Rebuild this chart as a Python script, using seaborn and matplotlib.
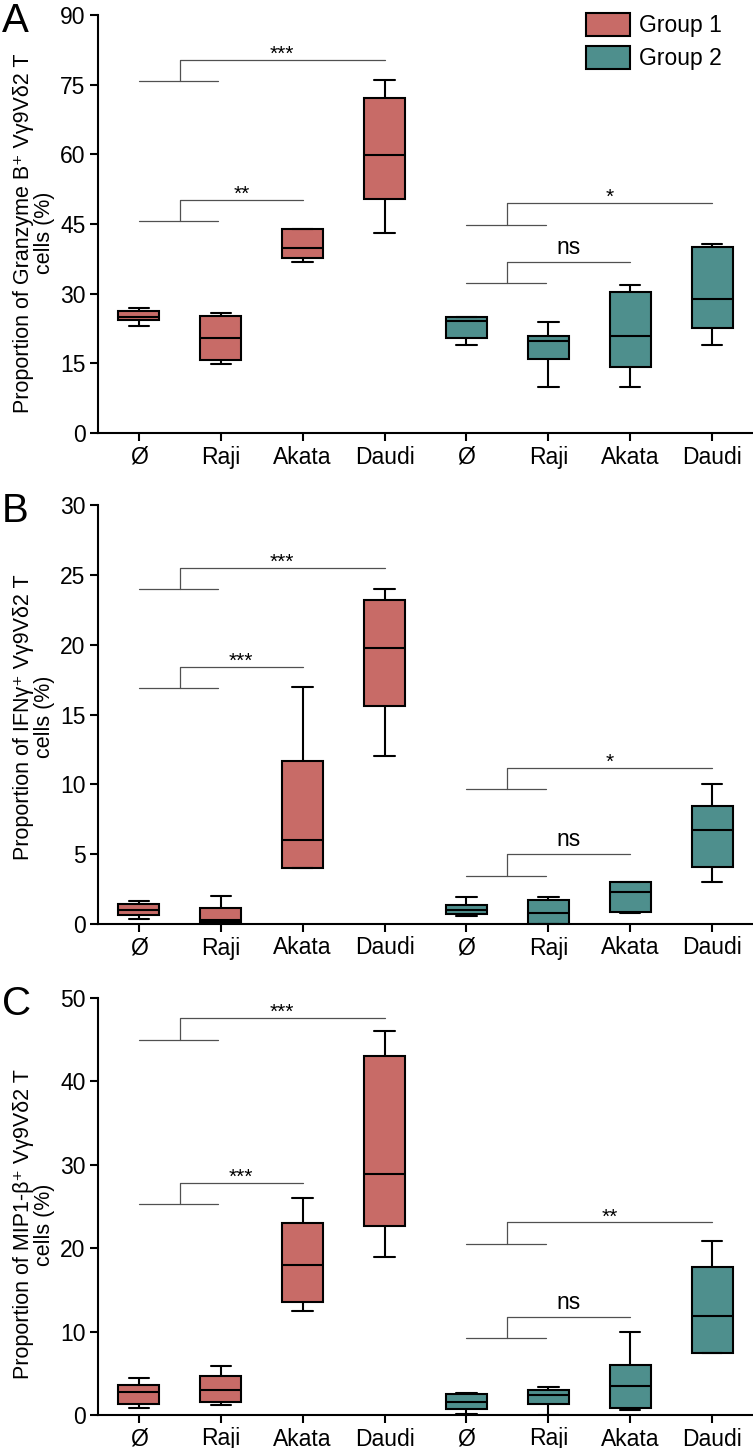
import matplotlib

matplotlib.use("Agg")
import matplotlib.pyplot as plt
import pandas as pd
import seaborn as sns
from matplotlib.patches import Patch

# targets and groups
cell_lines = ["Ø", "Raji", "Akata", "Daudi"]
groups = ["Group 1", "Group 2"]

# five-number summaries: min, q1, median, q3, max
granzyme_g1 = [[23.0, 24.3, 25.0, 26.3, 27.0], [14.9, 15.7, 20.4, 25.2, 25.8],
               [36.9, 37.6, 39.9, 43.9, 43.9], [43.0, 50.3, 59.9, 72.1, 75.9]]
granzyme_g2 = [[18.9, 20.4, 24.2, 25.0, 25.0], [10.0, 15.9, 19.9, 20.9, 23.9],
               [10.0, 14.3, 20.9, 30.4, 31.9], [18.9, 22.6, 28.9, 40.1, 40.8]]

ifng_g1 = [[0.36, 0.66, 0.97, 1.43, 1.67], [0.10, 0.14, 0.31, 1.14, 1.98],
           [3.98, 3.98, 6.03, 11.7, 16.95], [12.0, 15.6, 19.74, 23.2, 24.0]]
ifng_g2 = [[0.55, 0.71, 1.02, 1.36, 1.95], [0.0, 0.0, 0.81, 1.69, 1.95],
           [0.79, 0.88, 2.31, 2.98, 2.98], [2.98, 4.08, 6.75, 8.46, 9.99]]

mip_g1 = [[0.8, 1.28, 2.72, 3.6, 4.47], [1.16, 1.52, 2.95, 4.63, 5.9],
          [12.46, 13.6, 17.97, 22.97, 25.96], [19.0, 22.7, 28.95, 43.0, 46.0]]
mip_g2 = [[0.1, 0.72, 1.52, 2.5, 2.67], [0.0, 1.36, 2.35, 2.95, 3.3],
          [0.6, 0.88, 3.5, 5.95, 10.0], [7.4, 7.4, 11.9, 17.7, 20.9]]

ylabels = [
    "Proportion of Granzyme B\u207a V\u03b39V\u03b42 T\ncells (%)",
    "Proportion of IFN\u03b3\u207a V\u03b39V\u03b42 T\ncells (%)",
    "Proportion of MIP1-\u03b2\u207a V\u03b39V\u03b42 T\ncells (%)",
]
letters = ["A", "B", "C"]
ymax = [90, 30, 50]
ystep = [15, 5, 10]
label_y = [0.478, 0.494, 0.457]

# significance brackets: (start, end, lower y, upper y, label)
brackets = [
    [(0, 3, 75.7, 80.4, "***"), (0, 2, 45.6, 50.2, "**"),
     (4, 7, 44.7, 49.5, "*"), (4, 6, 32.3, 36.8, "ns")],
    [(0, 3, 24.0, 25.5, "***"), (0, 2, 16.9, 18.4, "***"),
     (4, 7, 9.65, 11.2, "*"), (4, 6, 3.45, 5.0, "ns")],
    [(0, 3, 45.0, 47.6, "***"), (0, 2, 25.3, 27.8, "***"),
     (4, 7, 20.5, 23.1, "**"), (4, 6, 9.2, 11.7, "ns")],
]

colors = {"Group 1": "#C86B67", "Group 2": "#4E8F8D"}

sns.set_style("ticks")
plt.rcParams["font.family"] = ["Liberation Sans", "DejaVu Sans"]
plt.rcParams["font.size"] = 16.5
for k in ["text.color", "axes.labelcolor", "xtick.color", "ytick.color", "axes.edgecolor"]:
    plt.rcParams[k] = "black"

FS = 16.5


def long_table(g1, g2):
    rows = []
    for grp, boxes in zip(groups, [g1, g2]):
        for name, vals in zip(cell_lines, boxes):
            for v in vals:
                rows.append({"slot": f"{name}|{grp}", "group": grp, "value": v})
    return pd.DataFrame(rows)


panels = [(granzyme_g1, granzyme_g2), (ifng_g1, ifng_g2), (mip_g1, mip_g2)]
order = [f"{n}|{g}" for g in groups for n in cell_lines]

fig = plt.figure(figsize=(7.53, 14.48), dpi=100)
H = 1448.0
tops = [15, 505, 998]
bottoms = [433, 924, 1415]

for i, (g1, g2) in enumerate(panels):
    ax = fig.add_axes([98 / 753, 1 - bottoms[i] / H, 655 / 753, (bottoms[i] - tops[i]) / H])
    df = long_table(g1, g2)
    sns.boxplot(data=df, x="slot", y="value", hue="group", order=order,
                hue_order=groups, palette=colors, dodge=False, width=0.5,
                whis=(0, 100), saturation=1, linecolor="black", linewidth=1.5,
                legend=False, ax=ax)

    ax.set_xlim(-0.5, 7.5)
    ax.set_ylim(0, ymax[i])
    ax.set_yticks(range(0, ymax[i] + 1, ystep[i]))
    ax.set_xticks(range(8))
    ax.set_xticklabels(cell_lines * 2)
    ax.set_xlabel("")
    ax.set_ylabel(ylabels[i], fontsize=15.5, linespacing=1.0)
    ax.yaxis.set_label_coords(-0.066, label_y[i])
    sns.despine(ax=ax)
    for s in ["left", "bottom"]:
        ax.spines[s].set_linewidth(1.5)
    ax.tick_params(width=1.5, length=6, labelsize=FS, pad=3, colors="black")

    # brackets
    for x0, x1, ylo, yhi, lab in brackets[i]:
        xm = x0 + 0.5
        ax.plot([x0, x0 + 0.97], [ylo, ylo], color="#505050", lw=0.9)
        ax.plot([xm, xm, x1], [ylo, yhi, yhi], color="#505050", lw=0.9)
        off = 6 if lab == "ns" else 0
        ax.annotate(lab, xy=((xm + x1) / 2, yhi), xytext=(0, off),
                    textcoords="offset points", ha="center", va="baseline",
                    fontsize=FS if lab == "ns" else 15)

    fig.text(0.002, 1 - (tops[i] - 13) / H, letters[i], fontsize=29,
             ha="left", va="top")

handles = [Patch(facecolor=colors[g], edgecolor="black", linewidth=1.5, label=g)
           for g in groups]
fig.legend(handles=handles, loc="upper left", bbox_to_anchor=(586 / 753, 1 - 13 / H),
           frameon=False, fontsize=FS, handlelength=1.9, handleheight=1.15,
           handletextpad=0.4, labelspacing=0.4, borderpad=0, borderaxespad=0)

fig.savefig("out.png", dpi=100)
